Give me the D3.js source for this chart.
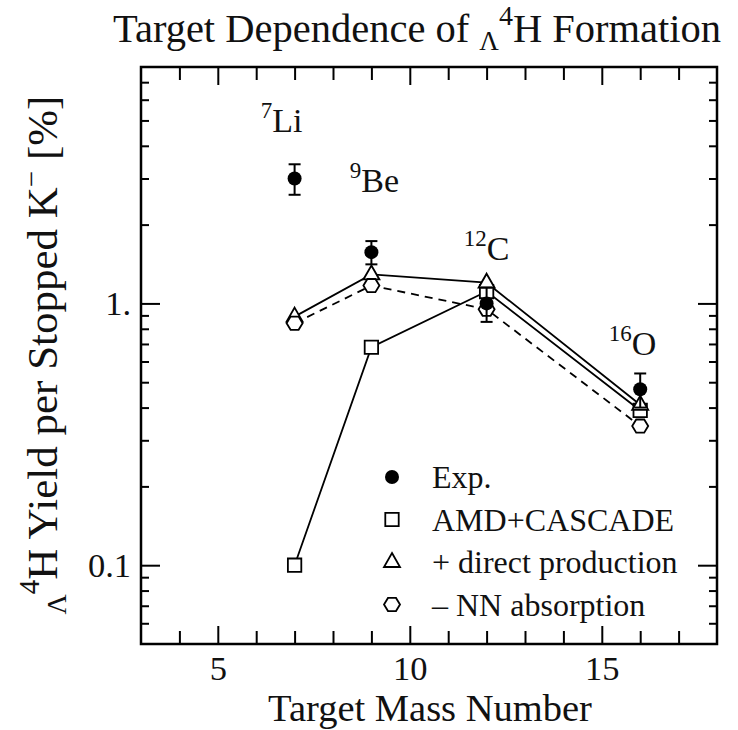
<!DOCTYPE html>
<html>
<head>
<meta charset="utf-8">
<script src="https://cdnjs.cloudflare.com/ajax/libs/d3/7.8.5/d3.min.js"></script>
<style>
  body { margin: 0; background: #fff; }
  svg { display: block; font-family: "Liberation Serif", "Times New Roman", serif; }
</style>
</head>
<body>
<script>
// target mass numbers and yields [%]
var targets = [7, 9, 12, 16];
var expYield = [3.0, 1.57, 1.0, 0.47];
var expError = [0.4, 0.16, 0.15, 0.07];
var amdCascade = [0.10, 0.68, 1.11, 0.39];
var directProduction = [0.89, 1.29, 1.20, 0.41];
var nnAbsorption = [0.84, 1.17, 0.95, 0.34];

var nucleusMass = ['7', '9', '12', '16'];
var nucleusName = ['Li', 'Be', 'C', 'O'];
var nucleusLabelX = [6.66, 9.08, 12.0, 15.8];
var nucleusLabelY = [4.53, 2.67, 1.46, 0.635];

var xMajorTicks = [5, 10, 15];
var xMinorTicks = [4, 6, 7, 8, 9, 11, 12, 13, 14, 16, 17];
var yMajorTicks = [0.1, 1];
var yTickLabels = ['0.1', '1.'];
var yMinorTicks = [0.06, 0.07, 0.08, 0.09, 0.2, 0.3, 0.4, 0.5, 0.6, 0.7, 0.8, 0.9, 2, 3, 4, 5, 6, 7];
var legendLabels = ['Exp.', 'AMD+CASCADE', '+ direct production', '\u2013 NN absorption'];

var Chart = {

  width: 738,
  height: 730,
  frame: { left: 141, right: 717, top: 67, bottom: 644 },

  svg: null,
  x: null,
  y: null,

  init: function () {

    this.svg = d3.select('body').append('svg')
      .attr('width', this.width)
      .attr('height', this.height);

    this.x = d3.scaleLinear().domain([3, 18]).range([this.frame.left, this.frame.right]);
    this.y = d3.scaleLog().domain([0.05, 8]).range([this.frame.bottom, this.frame.top]);

    this.drawAxes();
    this.drawSeries(amdCascade, null);
    this.drawSeries(directProduction, null);
    this.drawSeries(nnAbsorption, '8,6');
    this.drawMarkers(amdCascade, this.square);
    this.drawMarkers(directProduction, this.triangle);
    this.drawMarkers(nnAbsorption, this.hexagon);
    this.drawExperiment();
    this.drawNucleusLabels();
    this.drawLegend();
    this.drawTitles();
  },

  square: function (g) {
    g.append('path').attr('d', d3.symbol(d3.symbolSquare, 180)());
  },

  triangle: function (g) {
    g.append('path').attr('d', 'M0,-9L8,5L-8,5Z');
  },

  hexagon: function (g) {
    var r = 8;
    var pts = d3.range(6).map(function (i) {
      var a = i * Math.PI / 3;
      return [r * Math.cos(a), r * Math.sin(a) * 0.95];
    });
    g.append('path').attr('d', 'M' + pts.join('L') + 'Z');
  },

  addAxis: function (axis, transform, values, size, labels, padding) {
    var g = this.svg.append('g')
      .attr('transform', transform)
      .call(axis.tickValues(values).tickSize(size).tickPadding(padding || 10)
        .tickFormat(labels ? function (d, i) { return labels[i]; } : ''));
    g.select('.domain').remove();
    g.selectAll('line').attr('stroke', '#000').attr('stroke-width', 2);
    g.selectAll('text').attr('fill', '#111').style('font-size', '34.5px')
      .style('font-family', '"Liberation Serif", serif');
    return g;
  },

  drawAxes: function () {
    var f = this.frame, x = this.x, y = this.y;

    this.addAxis(d3.axisBottom(x), 'translate(0,' + f.bottom + ')', xMajorTicks, -18, ['5', '10', '15'], 12);
    this.addAxis(d3.axisBottom(x), 'translate(0,' + f.bottom + ')', xMinorTicks, -13, null);
    this.addAxis(d3.axisTop(x), 'translate(0,' + f.top + ')', xMajorTicks, -18, null);
    this.addAxis(d3.axisTop(x), 'translate(0,' + f.top + ')', xMinorTicks, -13, null);

    this.addAxis(d3.axisLeft(y), 'translate(' + f.left + ',0)', yMajorTicks, -19, yTickLabels, 10);
    this.addAxis(d3.axisLeft(y), 'translate(' + f.left + ',0)', yMinorTicks, -8, null);
    this.addAxis(d3.axisRight(y), 'translate(' + f.right + ',0)', yMajorTicks, -19, null);
    this.addAxis(d3.axisRight(y), 'translate(' + f.right + ',0)', yMinorTicks, -8, null);

    this.svg.append('rect')
      .attr('x', f.left).attr('y', f.top)
      .attr('width', f.right - f.left).attr('height', f.bottom - f.top)
      .attr('fill', 'none').attr('stroke', '#000').attr('stroke-width', 2.5);
  },

  drawSeries: function (values, dash) {
    var x = this.x, y = this.y;
    var line = d3.line()
      .x(function (d, i) { return x(targets[i]); })
      .y(function (d) { return y(d); });

    this.svg.append('path')
      .datum(values)
      .attr('d', line)
      .attr('fill', 'none')
      .attr('stroke', '#000')
      .attr('stroke-width', 1.8)
      .attr('stroke-dasharray', dash);
  },

  drawMarkers: function (values, shape) {
    var x = this.x, y = this.y;
    values.forEach(function (v, i) {
      var g = this.svg.append('g')
        .attr('transform', 'translate(' + x(targets[i]) + ',' + y(v) + ')');
      shape(g);
      g.select('path').attr('fill', '#fff').attr('stroke', '#000').attr('stroke-width', 1.8);
    }, this);
  },

  drawExperiment: function () {
    var x = this.x, y = this.y, svg = this.svg;
    expYield.forEach(function (v, i) {
      var cx = x(targets[i]);
      var top = y(v + expError[i]), bottom = y(v - expError[i]);
      var bar = svg.append('g').attr('stroke', '#000').attr('stroke-width', 2);
      bar.append('line').attr('x1', cx).attr('x2', cx).attr('y1', top).attr('y2', bottom);
      bar.append('line').attr('x1', cx - 6).attr('x2', cx + 6).attr('y1', top).attr('y2', top);
      bar.append('line').attr('x1', cx - 6).attr('x2', cx + 6).attr('y1', bottom).attr('y2', bottom);
      svg.append('circle').attr('cx', cx).attr('cy', y(v)).attr('r', 7).attr('fill', '#000');
    });
  },

  drawNucleusLabels: function () {
    var x = this.x, y = this.y, svg = this.svg;
    nucleusName.forEach(function (name, i) {
      var t = svg.append('text')
        .attr('x', x(nucleusLabelX[i]))
        .attr('y', y(nucleusLabelY[i]))
        .attr('text-anchor', 'middle')
        .attr('fill', '#111')
        .style('font-size', '34px');
      t.append('tspan').attr('dy', -14).style('font-size', '23px').text(nucleusMass[i]);
      t.append('tspan').attr('dy', 14).text(name);
    });
  },

  drawLegend: function () {
    var svg = this.svg;
    var shapes = [null, this.square, this.triangle, this.hexagon];
    var mx = 392, tx = 432, y0 = 477, step = 42.5;

    legendLabels.forEach(function (label, i) {
      var cy = y0 + i * step;
      if (shapes[i]) {
        var g = svg.append('g').attr('transform', 'translate(' + mx + ',' + cy + ')');
        shapes[i](g);
        g.select('path').attr('fill', '#fff').attr('stroke', '#000').attr('stroke-width', 1.8);
      } else {
        svg.append('circle').attr('cx', mx).attr('cy', cy).attr('r', 7).attr('fill', '#000');
      }
      svg.append('text')
        .attr('x', tx).attr('y', cy + 11)
        .attr('fill', '#111')
        .style('font-size', '32px')
        .text(label);
    });
  },

  drawTitles: function () {
    var title = this.svg.append('text')
      .attr('x', 113).attr('y', 42)
      .attr('fill', '#111')
      .style('font-size', '40.5px');
    title.append('tspan').text('Target Dependence of ');
    title.append('tspan').attr('dy', 8).style('font-size', '27px').text('\u039B');
    title.append('tspan').attr('dy', -25).style('font-size', '28px').text('4');
    title.append('tspan').attr('dy', 17).text('H Formation');

    this.svg.append('text')
      .attr('x', (this.frame.left + this.frame.right) / 2 + 1)
      .attr('y', 721)
      .attr('text-anchor', 'middle')
      .attr('fill', '#111')
      .style('font-size', '38.5px')
      .text('Target Mass Number');

    var ylab = this.svg.append('text')
      .attr('transform', 'translate(57,355) rotate(-90)')
      .attr('text-anchor', 'middle')
      .attr('fill', '#111')
      .style('font-size', '43px');
    ylab.append('tspan').attr('dy', 9).style('font-size', '28px').text('\u039B');
    ylab.append('tspan').attr('dy', -27).style('font-size', '29px').text('4');
    ylab.append('tspan').attr('dy', 18).text('H Yield per Stopped K');
    ylab.append('tspan').attr('dy', -16).style('font-size', '29px').text('\u2212');
    ylab.append('tspan').attr('dy', 16).text(' [%]');
  }
};

Chart.init();
</script>
</body>
</html>
